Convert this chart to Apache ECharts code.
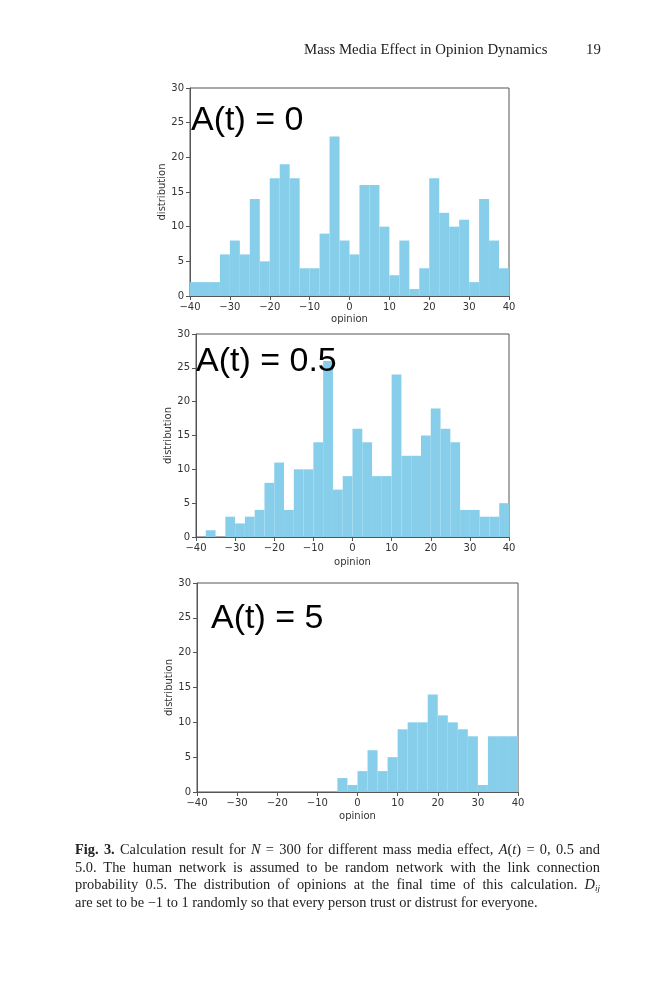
<!DOCTYPE html>
<html>
<head>
<meta charset="utf-8">
<script src="https://cdn.jsdelivr.net/npm/echarts@6/dist/echarts.min.js"></script>
<style>
  html, body { margin: 0; padding: 0; background: #fff; }
  #page { position: relative; width: 659px; height: 1000px; overflow: hidden; }
  #chart { position: absolute; left: 0; top: 0; width: 659px; height: 1000px; }
  .serif { font-family: "Liberation Serif", "DejaVu Serif", serif; color: #222; }
  #runhead { position: absolute; top: 41px; left: 304px; font-size: 14.8px; white-space: nowrap; }
  #pageno { position: absolute; top: 41px; left: 586px; font-size: 14.8px; }
  #caption { position: absolute; top: 841px; left: 75px; width: 525px; font-size: 14.4px; line-height: 17.7px; }
  #caption .ln { height: 17.7px; text-align: justify; text-align-last: justify; white-space: nowrap; }
  #caption .ln.last { text-align-last: left; }
  #caption i { font-style: italic; }
  #caption sub { font-size: 9px; line-height: 0; vertical-align: -2px; }
</style>
</head>
<body>
<div id="page">
  <div id="chart"></div>
  <div id="runhead" class="serif">Mass Media Effect in Opinion Dynamics</div>
  <div id="pageno" class="serif">19</div>
  <div id="caption" class="serif">
    <div class="ln"><b>Fig. 3.</b> Calculation result for <i>N</i> = 300 for different mass media effect, <i>A</i>(<i>t</i>) = 0, 0.5 and</div>
    <div class="ln">5.0. The human network is assumed to be random network with the link connection</div>
    <div class="ln">probability 0.5. The distribution of opinions at the final time of this calculation. <i>D<sub>ij</sub></i></div>
    <div class="ln last">are set to be −1 to 1 randomly so that every person trust or distrust for everyone.</div>
  </div>
</div>
<script>
// histogram bins: left edges, width 2.5
var binStarts = [-40, -37.5, -35, -32.5, -30, -27.5, -25, -22.5, -20, -17.5, -15, -12.5,
  -10, -7.5, -5, -2.5, 0, 2.5, 5, 7.5, 10, 12.5, 15, 17.5, 20, 22.5, 25, 27.5, 30, 32.5, 35, 37.5];
var binWidth = 2.5;

// counts per bin for each A(t)
var countsA0 = [2, 2, 2, 6, 8, 6, 14, 5, 17, 19, 17, 4,
  4, 9, 23, 8, 6, 16, 16, 10, 3, 8, 1, 4, 17, 12, 10, 11, 2, 14, 8, 4];
var countsA05 = [0, 1, 0, 3, 2, 3, 4, 8, 11, 4, 10, 10,
  14, 26, 7, 9, 16, 14, 9, 9, 24, 12, 12, 15, 19, 16, 14, 4, 4, 3, 3, 5];
var countsA5 = [0, 0, 0, 0, 0, 0, 0, 0, 0, 0, 0, 0,
  0, 0, 2, 1, 3, 6, 3, 5, 9, 10, 10, 14, 11, 10, 9, 8, 1, 8, 8, 8];

var panelLabels = ['A(t) = 0', 'A(t) = 0.5', 'A(t) = 5'];

var grids = [
  { left: 190, top: 88, width: 319, height: 208 },
  { left: 196, top: 334, width: 313, height: 203 },
  { left: 197, top: 583, width: 321, height: 209 }
];
var labelPos = [[191, 104], [196, 345], [211, 602]];
var xNameGaps = [18, 20, 19];

var axisColor = '#555';
var tickFont = { fontFamily: 'DejaVu Sans', fontSize: 10, color: '#333' };

function minus(v) {
  return String(v).replace('-', '\u2212');
}

function histSeries(idx, counts) {
  var data = binStarts.map(function(x, i) { return [x, counts[i]]; });
  return {
    type: 'custom',
    xAxisIndex: idx,
    yAxisIndex: idx,
    data: data,
    renderItem: function(params, api) {
      var x0 = api.value(0);
      var h = api.value(1);
      if (!h) return null;
      var p0 = api.coord([x0, h]);
      var p1 = api.coord([x0 + binWidth, 0]);
      return {
        type: 'rect',
        shape: { x: p0[0], y: p0[1], width: p1[0] - p0[0], height: p1[1] - p0[1] },
        style: { fill: '#87CEEB' }
      };
    },
    animation: false
  };
}

var chart = echarts.init(document.getElementById('chart'), null, { renderer: 'canvas' });

chart.setOption({
  backgroundColor: '#fff',
  animation: false,
  grid: grids.map(function(g) {
    return {
      left: g.left, top: g.top, width: g.width, height: g.height,
      show: true, borderColor: axisColor, borderWidth: 1, backgroundColor: 'transparent'
    };
  }),
  xAxis: grids.map(function(g, i) {
    return {
      type: 'value', gridIndex: i, min: -40, max: 40, interval: 10,
      name: 'opinion', nameLocation: 'middle', nameGap: xNameGaps[i],
      nameTextStyle: { fontFamily: 'DejaVu Sans', fontSize: 10, color: '#333' },
      axisLine: { show: true, onZero: false, lineStyle: { color: axisColor, width: 1 } },
      axisTick: { show: true, length: 4, lineStyle: { color: axisColor } },
      axisLabel: Object.assign({ margin: 6, formatter: minus }, tickFont),
      splitLine: { show: false }
    };
  }),
  yAxis: grids.map(function(g, i) {
    return {
      type: 'value', gridIndex: i, min: 0, max: 30, interval: 5,
      name: 'distribution', nameLocation: 'middle', nameGap: 23, nameRotate: 90,
      nameTextStyle: { fontFamily: 'DejaVu Sans', fontSize: 10, color: '#333' },
      axisLine: { show: true, onZero: false, lineStyle: { color: axisColor, width: 1 } },
      axisTick: { show: true, length: 4, lineStyle: { color: axisColor } },
      axisLabel: Object.assign({ margin: 6 }, tickFont),
      splitLine: { show: false }
    };
  }),
  series: [
    histSeries(0, countsA0),
    histSeries(1, countsA05),
    histSeries(2, countsA5)
  ],
  graphic: panelLabels.map(function(t, i) {
    return {
      type: 'text', left: labelPos[i][0], top: labelPos[i][1], z: 100,
      style: { text: t, font: '34px "Liberation Sans", Arial, sans-serif', fill: '#000' }
    };
  })
});
</script>
</body>
</html>
